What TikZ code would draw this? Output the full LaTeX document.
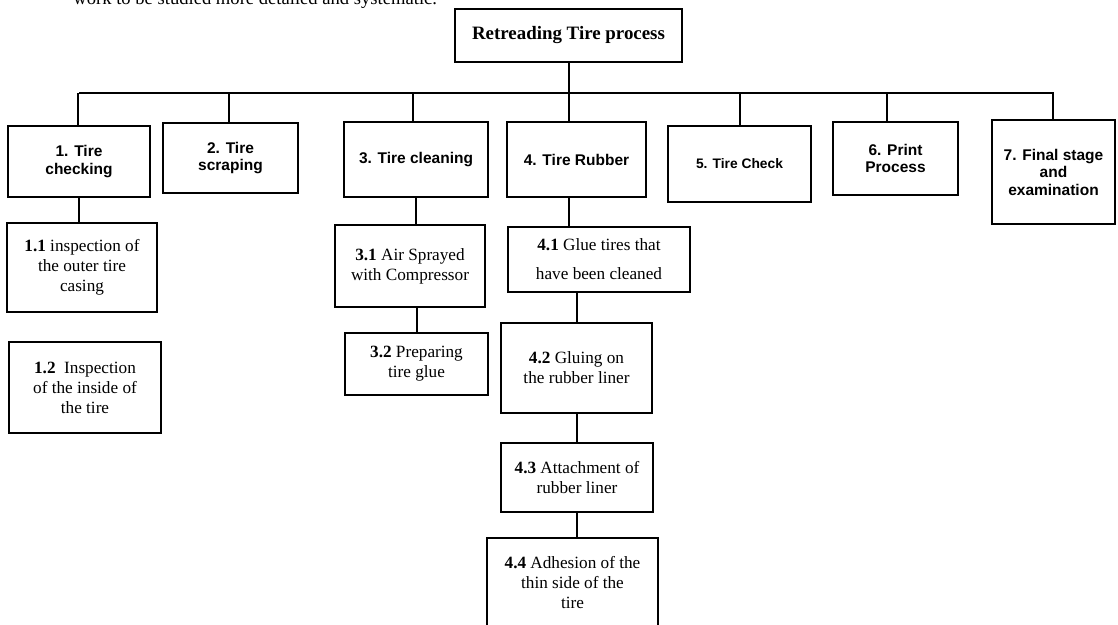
\documentclass[tikz,border=0pt]{standalone}
\usepackage{fontspec}
\setmainfont{Liberation Serif}
\setsansfont{Liberation Sans}
\begin{document}
\begin{tikzpicture}[x=0.5pt,y=-0.5pt]
    % Style definitions for the boxes and links
    \tikzset{box/.style={rectangle, draw=black, line width=1.4pt, align=center,
             font=\sffamily\bfseries\fontsize{7.75}{8.75}\selectfont},
             subbox/.style={rectangle, draw=black, line width=1.4pt, align=center,
             font=\fontsize{8.6}{10}\selectfont},
             boxsize/.style 2 args={minimum width=#1*0.5pt, minimum height=#2*0.5pt}}
    \tikzstyle{link} = [line width=1pt]

    \useasboundingbox (0,0) rectangle (1118,625);
    \clip (0,0) rectangle (1118,625);

    % Text line cut off at the top
    \node (caption) [anchor=base west, inner sep=0pt, font=\fontsize{9.3}{11}\selectfont] at (73,5)
        {work to be studied more detailed and systematic.};

    % Root box
    \node (top) [box, font=\bfseries\fontsize{9.45}{11}\selectfont, boxsize={227}{53}] at (568.5,35.5)
        {Retreading Tire process};

    % Main stage boxes
    \node (b1) [box, boxsize={142}{71}] at (79,161.5) {1. Tire\\checking};
    \node (b2) [box, boxsize={135}{70}] at (230.5,158) {2. Tire\\scraping};
    \node (b3) [box, boxsize={144}{75}] at (416,159.5) {3. Tire cleaning};
    \node (b4) [box, boxsize={139}{75}] at (576.5,159.5) {4. Tire Rubber};
    \node (b5) [box, font=\sffamily\bfseries\fontsize{6.9}{8}\selectfont, boxsize={143}{76}] at (739.5,164) {5. Tire Check};
    \node (b6) [box, boxsize={125}{73}] at (895.5,158.5) {6. Print\\Process};
    \node (b7) [box, boxsize={123}{104}] at (1053.5,172) {7. Final stage\\and\\examination};

    % Sub-step boxes
    \node (s11) [subbox, boxsize={150}{89}] at (82,267.5) {\textbf{1.1} inspection of\\the outer tire\\casing};
    \node (s12) [subbox, boxsize={152}{91}] at (85,387.5) {\textbf{1.2}~ Inspection\\of the inside of\\the tire};
    \node (s31) [subbox, boxsize={150}{82}] at (410,266) {\textbf{3.1} Air Sprayed\\with Compressor};
    \node (s32) [subbox, boxsize={143}{62}] at (416.5,364) {\textbf{3.2} Preparing\\tire glue};
    \node (s41) [subbox, boxsize={182}{65}] at (599,259.5) {\textbf{4.1} Glue tires that\\[4.5pt]have been cleaned};
    \node (s42) [subbox, boxsize={151}{90}] at (576.5,368) {\textbf{4.2} Gluing on\\the rubber liner};
    \node (s43) [subbox, boxsize={152}{69}] at (577,477.5) {\textbf{4.3} Attachment of\\ rubber liner};
    \node (s44) [subbox, boxsize={171}{90}] at (572.5,583) {\textbf{4.4} Adhesion of the\\thin side of the\\tire};

    % Tree links from the root
    \coordinate (bus) at (568,93);
    \draw [link] (top.south) -- (top.south |- bus);
    \draw [link] (b1.north |- bus) -- (b7.north |- bus);
    \foreach \n/\dx in {b1/-0.5pt, b2/-0.75pt, b3/-1.5pt, b5/0pt, b6/-4.25pt, b7/-0.25pt}
        \draw [link] ([xshift=\dx]\n.north) -- ([xshift=\dx]\n.north |- bus);
    \draw [link] (top.south |- b4.north) -- (top.south |- bus);

    % Links to the sub-steps
    \draw [link] (b1.south) -- (b1.south |- s11.north);
    \draw [link] (b3.south) -- (b3.south |- s31.north);
    \draw [link] (s32.north) -- (s32.north |- s31.south);
    \draw [link] (top.south |- b4.south) -- (top.south |- s41.north);
    \draw [link] (s42.north) -- (s42.north |- s41.south);
    \draw [link] (s42.south) -- (s42.south |- s43.north);
    \draw [link] (s43.south) -- (s43.south |- s44.north);

\end{tikzpicture}
\end{document}
